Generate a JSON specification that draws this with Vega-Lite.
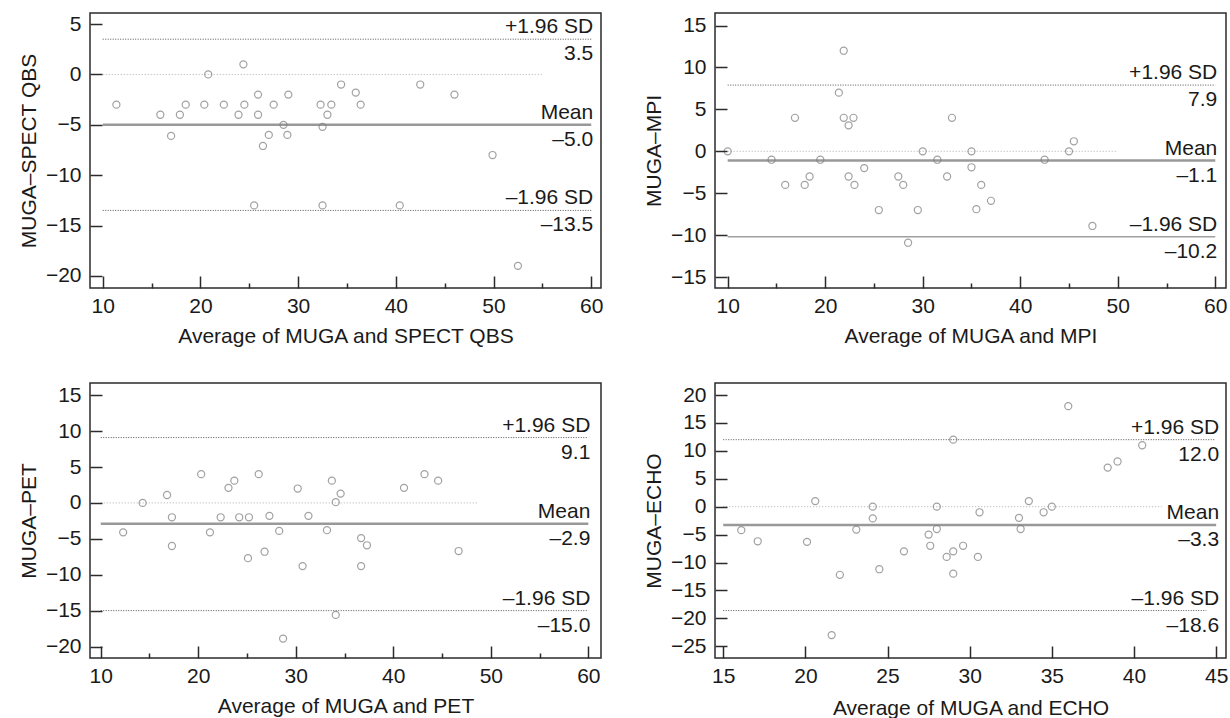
{
  "$schema": "https://vega.github.io/schema/vega-lite/v6.json",
  "padding": {"left": 17, "top": 12, "right": 3, "bottom": 2},
  "background": "white",
  "config": {
    "font": "Liberation Sans",
    "view": {"stroke": "#2b2b2b", "strokeWidth": 1.5},
    "axis": {
      "domain": false, "grid": false, "labelFontSize": 21, "labelColor": "#1a1a1a",
      "titleFontSize": 21, "titleFontWeight": "normal", "titleColor": "#1a1a1a",
      "tickColor": "#2b2b2b", "tickWidth": 1.5, "labelFlush": false, "labelOverlap": false
    },
    "axisY": {"labelPadding": 21, "titlePadding": 6},
    "axisX": {"labelPadding": 19, "titlePadding": 2}
  },
  "datasets": {
    "p1": [
      {"avg": 11.4, "diff": -3}, {"avg": 15.9, "diff": -4}, {"avg": 17.0, "diff": -6.1}, {"avg": 17.9, "diff": -4},
      {"avg": 18.5, "diff": -3}, {"avg": 20.4, "diff": -3}, {"avg": 20.8, "diff": 0}, {"avg": 22.4, "diff": -3},
      {"avg": 23.9, "diff": -4}, {"avg": 24.4, "diff": 1}, {"avg": 24.5, "diff": -3}, {"avg": 25.5, "diff": -13},
      {"avg": 25.9, "diff": -2}, {"avg": 25.9, "diff": -4}, {"avg": 26.4, "diff": -7.1}, {"avg": 27.0, "diff": -6},
      {"avg": 27.5, "diff": -3}, {"avg": 28.5, "diff": -5}, {"avg": 28.9, "diff": -6}, {"avg": 29.0, "diff": -2},
      {"avg": 32.3, "diff": -3}, {"avg": 33.4, "diff": -3}, {"avg": 33.0, "diff": -4}, {"avg": 32.5, "diff": -5.2},
      {"avg": 32.5, "diff": -13}, {"avg": 34.4, "diff": -1}, {"avg": 35.9, "diff": -1.8}, {"avg": 36.4, "diff": -3},
      {"avg": 40.4, "diff": -13}, {"avg": 42.5, "diff": -1}, {"avg": 46.0, "diff": -2}, {"avg": 49.9, "diff": -8},
      {"avg": 52.5, "diff": -19}
    ],
    "l1": [
      {"kind": "zero", "avg": 10, "avg2": 55, "diff": 0},
      {"kind": "sd", "avg": 10, "avg2": 60, "diff": 3.5},
      {"kind": "mean", "avg": 10, "avg2": 60, "diff": -5.0},
      {"kind": "sd", "avg": 10, "avg2": 60, "diff": -13.5}
    ],
    "t1": [
      {"avg": 60, "diff": 3.5, "text": "+1.96 SD", "pos": "above"},
      {"avg": 60, "diff": 3.5, "text": "3.5", "pos": "below"},
      {"avg": 60, "diff": -5.0, "text": "Mean", "pos": "above"},
      {"avg": 60, "diff": -5.0, "text": "–5.0", "pos": "below"},
      {"avg": 60, "diff": -13.5, "text": "–1.96 SD", "pos": "above"},
      {"avg": 60, "diff": -13.5, "text": "–13.5", "pos": "below"}
    ],
    "p2": [
      {"avg": 10, "diff": 0}, {"avg": 14.5, "diff": -1}, {"avg": 15.9, "diff": -4}, {"avg": 16.9, "diff": 4},
      {"avg": 17.9, "diff": -4}, {"avg": 18.4, "diff": -3}, {"avg": 19.5, "diff": -1}, {"avg": 21.4, "diff": 7},
      {"avg": 21.9, "diff": 12}, {"avg": 21.9, "diff": 4}, {"avg": 22.4, "diff": 3.1}, {"avg": 22.9, "diff": 4},
      {"avg": 22.4, "diff": -3}, {"avg": 23.0, "diff": -4}, {"avg": 24.0, "diff": -2}, {"avg": 25.5, "diff": -7},
      {"avg": 27.5, "diff": -3}, {"avg": 28.0, "diff": -4}, {"avg": 28.5, "diff": -10.9}, {"avg": 29.5, "diff": -7},
      {"avg": 30.0, "diff": 0}, {"avg": 31.5, "diff": -1}, {"avg": 32.5, "diff": -3}, {"avg": 33.0, "diff": 4},
      {"avg": 35.0, "diff": 0}, {"avg": 35.0, "diff": -1.9}, {"avg": 35.5, "diff": -6.9}, {"avg": 36.0, "diff": -4},
      {"avg": 37.0, "diff": -5.9}, {"avg": 42.5, "diff": -1}, {"avg": 45.0, "diff": 0}, {"avg": 45.5, "diff": 1.2},
      {"avg": 47.4, "diff": -8.9}
    ],
    "l2": [
      {"kind": "zero", "avg": 10, "avg2": 50, "diff": 0},
      {"kind": "sd", "avg": 10, "avg2": 60, "diff": 7.9},
      {"kind": "mean", "avg": 10, "avg2": 60, "diff": -1.1},
      {"kind": "sdsolid", "avg": 10, "avg2": 60, "diff": -10.2}
    ],
    "t2": [
      {"avg": 60, "diff": 7.9, "text": "+1.96 SD", "pos": "above"},
      {"avg": 60, "diff": 7.9, "text": "7.9", "pos": "below"},
      {"avg": 60, "diff": -1.1, "text": "Mean", "pos": "above"},
      {"avg": 60, "diff": -1.1, "text": "–1.1", "pos": "below"},
      {"avg": 60, "diff": -10.2, "text": "–1.96 SD", "pos": "above"},
      {"avg": 60, "diff": -10.2, "text": "–10.2", "pos": "below"}
    ],
    "p3": [
      {"avg": 12.3, "diff": -4.1}, {"avg": 14.3, "diff": 0}, {"avg": 16.8, "diff": 1.1}, {"avg": 17.3, "diff": -2},
      {"avg": 17.3, "diff": -6}, {"avg": 20.3, "diff": 4}, {"avg": 21.2, "diff": -4.1}, {"avg": 22.3, "diff": -2},
      {"avg": 23.1, "diff": 2.1}, {"avg": 23.7, "diff": 3.1}, {"avg": 24.2, "diff": -2}, {"avg": 25.2, "diff": -2},
      {"avg": 25.1, "diff": -7.7}, {"avg": 26.2, "diff": 4}, {"avg": 26.8, "diff": -6.8}, {"avg": 27.3, "diff": -1.8},
      {"avg": 28.3, "diff": -3.9}, {"avg": 28.7, "diff": -18.9}, {"avg": 30.2, "diff": 2}, {"avg": 30.7, "diff": -8.8},
      {"avg": 31.3, "diff": -1.8}, {"avg": 33.2, "diff": -3.8}, {"avg": 33.7, "diff": 3.1}, {"avg": 34.1, "diff": 0.1},
      {"avg": 34.6, "diff": 1.3}, {"avg": 34.1, "diff": -15.6}, {"avg": 36.7, "diff": -4.9}, {"avg": 37.3, "diff": -5.9},
      {"avg": 36.7, "diff": -8.8}, {"avg": 41.1, "diff": 2.1}, {"avg": 43.2, "diff": 4}, {"avg": 44.6, "diff": 3.1},
      {"avg": 46.7, "diff": -6.7}
    ],
    "l3": [
      {"kind": "zero", "avg": 10, "avg2": 48.7, "diff": 0},
      {"kind": "sd", "avg": 10, "avg2": 60, "diff": 9.1},
      {"kind": "mean", "avg": 10, "avg2": 60, "diff": -2.9},
      {"kind": "sd", "avg": 10, "avg2": 60, "diff": -15.0}
    ],
    "t3": [
      {"avg": 60, "diff": 9.1, "text": "+1.96 SD", "pos": "above"},
      {"avg": 60, "diff": 9.1, "text": "9.1", "pos": "below"},
      {"avg": 60, "diff": -2.9, "text": "Mean", "pos": "above"},
      {"avg": 60, "diff": -2.9, "text": "–2.9", "pos": "below"},
      {"avg": 60, "diff": -15.0, "text": "–1.96 SD", "pos": "above"},
      {"avg": 60, "diff": -15.0, "text": "–15.0", "pos": "below"}
    ],
    "p4": [
      {"avg": 16.1, "diff": -4.2}, {"avg": 17.1, "diff": -6.2}, {"avg": 20.1, "diff": -6.3}, {"avg": 20.6, "diff": 1.0},
      {"avg": 22.1, "diff": -12.2}, {"avg": 21.6, "diff": -23}, {"avg": 23.1, "diff": -4.1}, {"avg": 24.1, "diff": 0},
      {"avg": 24.1, "diff": -2.1}, {"avg": 24.5, "diff": -11.2}, {"avg": 26.0, "diff": -8}, {"avg": 27.5, "diff": -5},
      {"avg": 27.6, "diff": -7}, {"avg": 28.0, "diff": 0}, {"avg": 28.0, "diff": -4}, {"avg": 28.6, "diff": -9},
      {"avg": 29.0, "diff": -8}, {"avg": 29.0, "diff": 12}, {"avg": 29.0, "diff": -12}, {"avg": 29.6, "diff": -7},
      {"avg": 30.6, "diff": -1}, {"avg": 30.5, "diff": -9}, {"avg": 33.0, "diff": -2}, {"avg": 33.1, "diff": -4},
      {"avg": 33.6, "diff": 1}, {"avg": 34.5, "diff": -1}, {"avg": 35.0, "diff": 0}, {"avg": 36.0, "diff": 18},
      {"avg": 38.4, "diff": 7}, {"avg": 39.0, "diff": 8.1}, {"avg": 40.5, "diff": 11}
    ],
    "l4": [
      {"kind": "zero", "avg": 15, "avg2": 41.7, "diff": 0},
      {"kind": "sd", "avg": 15, "avg2": 44.9, "diff": 12.0},
      {"kind": "mean", "avg": 15, "avg2": 45, "diff": -3.3},
      {"kind": "sd", "avg": 15, "avg2": 44.4, "diff": -18.6}
    ],
    "t4": [
      {"avg": 45, "diff": 12.0, "text": "+1.96 SD", "pos": "above"},
      {"avg": 45, "diff": 12.0, "text": "12.0", "pos": "below"},
      {"avg": 45, "diff": -3.3, "text": "Mean", "pos": "above"},
      {"avg": 45, "diff": -3.3, "text": "–3.3", "pos": "below"},
      {"avg": 45, "diff": -18.6, "text": "–1.96 SD", "pos": "above"},
      {"avg": 45, "diff": -18.6, "text": "–18.6", "pos": "below"}
    ]
  },
  "columns": 2,
  "spacing": {"row": 95, "column": 114},
  "bounds": "flush",
  "concat": [
    {
      "width": 511, "height": 275,
      "encoding": {
        "x": {"field": "avg", "type": "quantitative", "title": "Average of MUGA and SPECT QBS",
          "scale": {"domain": [8.7, 61.0], "nice": false, "zero": false},
          "axis": {"zindex": 2, "values": [10, 15, 20, 25, 30, 35, 40, 45, 50, 55, 60],
            "labelExpr": "datum.value % 10 === 0 ? datum.label : ''",
            "tickSize": {"condition": {"test": "datum.value % 10 === 0", "value": -12}, "value": -5}}},
        "y": {"field": "diff", "type": "quantitative", "title": "MUGA–SPECT QBS",
          "scale": {"domain": [-21.2, 6.1], "nice": false, "zero": false},
          "axis": {"zindex": 2, "tickSize": -12, "values": [-20, -15, -10, -5, 0, 5]}}
      },
      "layer": [
        {"data": {"name": "l1"}, "transform": [{"filter": "datum.kind === 'zero'"}],
          "mark": {"type": "rule", "color": "#b0b0b0", "strokeDash": [1, 2], "strokeWidth": 1}, "encoding": {"x2": {"field": "avg2"}}},
        {"data": {"name": "l1"}, "transform": [{"filter": "datum.kind === 'sd'"}],
          "mark": {"type": "rule", "color": "#555555", "strokeDash": [1, 1.5], "strokeWidth": 1}, "encoding": {"x2": {"field": "avg2"}}},
        {"data": {"name": "l1"}, "transform": [{"filter": "datum.kind === 'mean'"}],
          "mark": {"type": "rule", "color": "#999999", "strokeWidth": 2.5}, "encoding": {"x2": {"field": "avg2"}}},
        {"data": {"name": "p1"}, "mark": {"type": "point", "shape": "circle", "filled": false, "color": "#7a7a7a", "size": 50, "strokeWidth": 1.2}},
        {"data": {"name": "t1"}, "transform": [{"filter": "datum.pos === 'above'"}],
          "mark": {"type": "text", "align": "right", "baseline": "alphabetic", "dx": 2, "dy": -6, "fontSize": 21, "color": "#1a1a1a"},
          "encoding": {"text": {"field": "text"}}},
        {"data": {"name": "t1"}, "transform": [{"filter": "datum.pos === 'below'"}],
          "mark": {"type": "text", "align": "right", "baseline": "alphabetic", "dx": 2, "dy": 21, "fontSize": 21, "color": "#1a1a1a"},
          "encoding": {"text": {"field": "text"}}}
      ]
    },
    {
      "width": 511, "height": 275,
      "encoding": {
        "x": {"field": "avg", "type": "quantitative", "title": "Average of MUGA and MPI",
          "scale": {"domain": [8.7, 61.1], "nice": false, "zero": false},
          "axis": {"zindex": 2, "values": [10, 15, 20, 25, 30, 35, 40, 45, 50, 55, 60],
            "labelExpr": "datum.value % 10 === 0 ? datum.label : ''",
            "tickSize": {"condition": {"test": "datum.value % 10 === 0", "value": -12}, "value": -5}}},
        "y": {"field": "diff", "type": "quantitative", "title": "MUGA–MPI",
          "scale": {"domain": [-16.3, 16.5], "nice": false, "zero": false},
          "axis": {"zindex": 2, "tickSize": -12, "values": [-15, -10, -5, 0, 5, 10, 15]}}
      },
      "layer": [
        {"data": {"name": "l2"}, "transform": [{"filter": "datum.kind === 'zero'"}],
          "mark": {"type": "rule", "color": "#b0b0b0", "strokeDash": [1, 2], "strokeWidth": 1}, "encoding": {"x2": {"field": "avg2"}}},
        {"data": {"name": "l2"}, "transform": [{"filter": "datum.kind === 'sd'"}],
          "mark": {"type": "rule", "color": "#555555", "strokeDash": [1, 1.5], "strokeWidth": 1}, "encoding": {"x2": {"field": "avg2"}}},
        {"data": {"name": "l2"}, "transform": [{"filter": "datum.kind === 'mean'"}],
          "mark": {"type": "rule", "color": "#999999", "strokeWidth": 2.5}, "encoding": {"x2": {"field": "avg2"}}},
        {"data": {"name": "l2"}, "transform": [{"filter": "datum.kind === 'sdsolid'"}],
          "mark": {"type": "rule", "color": "#a0a0a0", "strokeWidth": 1.5}, "encoding": {"x2": {"field": "avg2"}}},
        {"data": {"name": "p2"}, "mark": {"type": "point", "shape": "circle", "filled": false, "color": "#7a7a7a", "size": 50, "strokeWidth": 1.2}},
        {"data": {"name": "t2"}, "transform": [{"filter": "datum.pos === 'above'"}],
          "mark": {"type": "text", "align": "right", "baseline": "alphabetic", "dx": 2, "dy": -6, "fontSize": 21, "color": "#1a1a1a"},
          "encoding": {"text": {"field": "text"}}},
        {"data": {"name": "t2"}, "transform": [{"filter": "datum.pos === 'below'"}],
          "mark": {"type": "text", "align": "right", "baseline": "alphabetic", "dx": 2, "dy": 21, "fontSize": 21, "color": "#1a1a1a"},
          "encoding": {"text": {"field": "text"}}}
      ]
    },
    {
      "width": 511, "height": 275,
      "encoding": {
        "x": {"field": "avg", "type": "quantitative", "title": "Average of MUGA and PET",
          "scale": {"domain": [8.9, 61.3], "nice": false, "zero": false},
          "axis": {"zindex": 2, "values": [10, 15, 20, 25, 30, 35, 40, 45, 50, 55, 60],
            "labelExpr": "datum.value % 10 === 0 ? datum.label : ''",
            "tickSize": {"condition": {"test": "datum.value % 10 === 0", "value": -12}, "value": -5}}},
        "y": {"field": "diff", "type": "quantitative", "title": "MUGA–PET",
          "scale": {"domain": [-21.6, 16.7], "nice": false, "zero": false},
          "axis": {"zindex": 2, "tickSize": -12, "values": [-20, -15, -10, -5, 0, 5, 10, 15]}}
      },
      "layer": [
        {"data": {"name": "l3"}, "transform": [{"filter": "datum.kind === 'zero'"}],
          "mark": {"type": "rule", "color": "#b0b0b0", "strokeDash": [1, 2], "strokeWidth": 1}, "encoding": {"x2": {"field": "avg2"}}},
        {"data": {"name": "l3"}, "transform": [{"filter": "datum.kind === 'sd'"}],
          "mark": {"type": "rule", "color": "#555555", "strokeDash": [1, 1.5], "strokeWidth": 1}, "encoding": {"x2": {"field": "avg2"}}},
        {"data": {"name": "l3"}, "transform": [{"filter": "datum.kind === 'mean'"}],
          "mark": {"type": "rule", "color": "#999999", "strokeWidth": 2.5}, "encoding": {"x2": {"field": "avg2"}}},
        {"data": {"name": "p3"}, "mark": {"type": "point", "shape": "circle", "filled": false, "color": "#7a7a7a", "size": 50, "strokeWidth": 1.2}},
        {"data": {"name": "t3"}, "transform": [{"filter": "datum.pos === 'above'"}],
          "mark": {"type": "text", "align": "right", "baseline": "alphabetic", "dx": 2, "dy": -6, "fontSize": 21, "color": "#1a1a1a"},
          "encoding": {"text": {"field": "text"}}},
        {"data": {"name": "t3"}, "transform": [{"filter": "datum.pos === 'below'"}],
          "mark": {"type": "text", "align": "right", "baseline": "alphabetic", "dx": 2, "dy": 21, "fontSize": 21, "color": "#1a1a1a"},
          "encoding": {"text": {"field": "text"}}}
      ]
    },
    {
      "width": 511, "height": 275,
      "encoding": {
        "x": {"field": "avg", "type": "quantitative", "title": "Average of MUGA and ECHO",
          "scale": {"domain": [14.5, 45.6], "nice": false, "zero": false},
          "axis": {"zindex": 2, "values": [15, 20, 25, 30, 35, 40, 45], "tickSize": -12, "titlePadding": 11}},
        "y": {"field": "diff", "type": "quantitative", "title": "MUGA–ECHO",
          "scale": {"domain": [-27.1, 22.15], "nice": false, "zero": false},
          "axis": {"zindex": 2, "tickSize": -12, "values": [-25, -20, -15, -10, -5, 0, 5, 10, 15, 20]}}
      },
      "layer": [
        {"data": {"name": "l4"}, "transform": [{"filter": "datum.kind === 'zero'"}],
          "mark": {"type": "rule", "color": "#b0b0b0", "strokeDash": [1, 2], "strokeWidth": 1}, "encoding": {"x2": {"field": "avg2"}}},
        {"data": {"name": "l4"}, "transform": [{"filter": "datum.kind === 'sd'"}],
          "mark": {"type": "rule", "color": "#555555", "strokeDash": [1, 1.5], "strokeWidth": 1}, "encoding": {"x2": {"field": "avg2"}}},
        {"data": {"name": "l4"}, "transform": [{"filter": "datum.kind === 'mean'"}],
          "mark": {"type": "rule", "color": "#999999", "strokeWidth": 2.5}, "encoding": {"x2": {"field": "avg2"}}},
        {"data": {"name": "p4"}, "mark": {"type": "point", "shape": "circle", "filled": false, "color": "#7a7a7a", "size": 50, "strokeWidth": 1.2}},
        {"data": {"name": "t4"}, "transform": [{"filter": "datum.pos === 'above'"}],
          "mark": {"type": "text", "align": "right", "baseline": "alphabetic", "dx": 3, "dy": -6, "fontSize": 21, "color": "#1a1a1a"},
          "encoding": {"text": {"field": "text"}}},
        {"data": {"name": "t4"}, "transform": [{"filter": "datum.pos === 'below'"}],
          "mark": {"type": "text", "align": "right", "baseline": "alphabetic", "dx": 3, "dy": 21, "fontSize": 21, "color": "#1a1a1a"},
          "encoding": {"text": {"field": "text"}}}
      ]
    }
  ]
}
